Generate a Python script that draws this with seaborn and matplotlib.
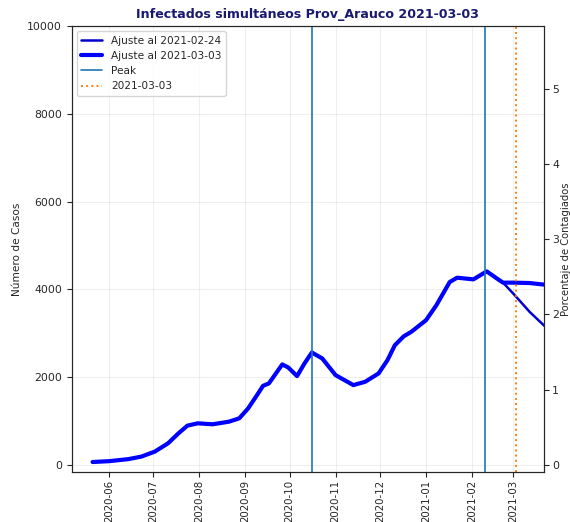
import pandas as pd
import seaborn as sns
import matplotlib.pyplot as plt
import matplotlib.dates as mdates

# Curve (shared history of both fits)
hist_dates = ['2020-05-21', '2020-06-01', '2020-06-14', '2020-06-23', '2020-07-02',
              '2020-07-11', '2020-07-18', '2020-07-24', '2020-07-31', '2020-08-10',
              '2020-08-21', '2020-08-28', '2020-09-03', '2020-09-09', '2020-09-13',
              '2020-09-17', '2020-09-26', '2020-09-30', '2020-10-06', '2020-10-11',
              '2020-10-16', '2020-10-23', '2020-11-01', '2020-11-13', '2020-11-21',
              '2020-11-30', '2020-12-06', '2020-12-11', '2020-12-17', '2020-12-22',
              '2021-01-01', '2021-01-08', '2021-01-17', '2021-01-22', '2021-02-02',
              '2021-02-11', '2021-02-18', '2021-02-22']
hist_cases = [65, 84, 130, 189, 302,
              493, 720, 894, 947, 925,
              984, 1061, 1288, 1591, 1800,
              1857, 2289, 2221, 2023, 2311,
              2561, 2425, 2045, 1818, 1894,
              2084, 2386, 2727, 2930, 3030,
              3296, 3637, 4167, 4266, 4228,
              4410, 4244, 4153]

# Projections after the split
tail_0224_dates = ['2021-03-02', '2021-03-12', '2021-03-22']
tail_0224_cases = [3864, 3485, 3166]
tail_0303_dates = ['2021-03-01', '2021-03-12', '2021-03-22']
tail_0303_cases = [4153, 4144, 4107]

peak_dates = ['2020-10-16', '2021-02-10']
fecha_corte = '2021-03-03'
poblacion = 171400

fit_a = pd.DataFrame({'fecha': pd.to_datetime(hist_dates + tail_0224_dates),
                      'casos': hist_cases + tail_0224_cases})
fit_b = pd.DataFrame({'fecha': pd.to_datetime(hist_dates + tail_0303_dates),
                      'casos': hist_cases + tail_0303_cases})

sns.set_style('ticks')
plt.rcParams['font.family'] = ['DejaVu Sans']

fig = plt.figure(figsize=(5.7, 5.22), dpi=100)
ax = fig.add_axes([0.126, 0.096, 0.828, 0.854])

sns.lineplot(data=fit_a, x='fecha', y='casos', ax=ax, color='mediumblue',
             linewidth=1.8, label='Ajuste al 2021-02-24')
sns.lineplot(data=fit_b, x='fecha', y='casos', ax=ax, color='blue',
             linewidth=3, label='Ajuste al 2021-03-03')
for i, d in enumerate(peak_dates):
    ax.axvline(pd.Timestamp(d), color='tab:blue', linewidth=1.2,
               label='Peak' if i == 0 else None)
ax.axvline(pd.Timestamp(fecha_corte), color='tab:orange', linestyle=':',
           linewidth=1.4, label=fecha_corte)

ax.set_xlim(pd.Timestamp('2020-05-07'), pd.Timestamp('2021-03-21 12:00'))
ax.set_ylim(-160, 10000)
ax.xaxis.set_major_locator(mdates.MonthLocator())
ax.xaxis.set_major_formatter(mdates.DateFormatter('%Y-%m'))
ax.tick_params(axis='x', rotation=90, labelsize=7.4, pad=2.5)
ax.tick_params(axis='y', labelsize=7.8)
ax.set_xlabel('')
ax.set_ylabel('Número de Casos', fontsize=7.6)
ax.grid(alpha=0.3)
ax.set_title('Infectados simultáneos Prov_Arauco 2021-03-03',
             color='midnightblue', fontweight='bold', fontsize=9.1, pad=6)
ax.legend(loc='upper left', fontsize=7.6)

ax2 = ax.twinx()
ax2.set_ylim(-160 / poblacion * 100, 10000 / poblacion * 100)
ax2.set_ylabel('Porcentaje de Contagiados', fontsize=7.2)
ax2.yaxis.set_label_coords(1.037, 0.5)
ax2.tick_params(axis='y', labelsize=7.8, pad=2.5)

plt.savefig('out.png')
